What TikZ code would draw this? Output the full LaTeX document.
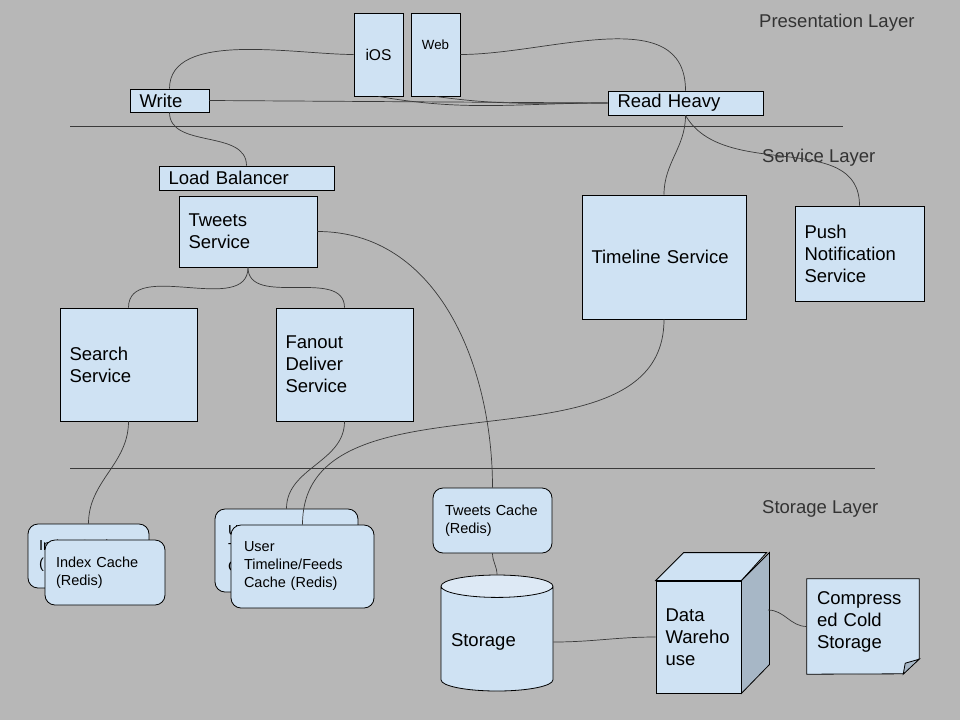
\documentclass[tikz,border=0pt]{standalone}
\usepackage{fontspec}
\setmainfont{Liberation Sans}
\usetikzlibrary{shapes.geometric}
\definecolor{bgcol}{HTML}{B7B7B7}
\definecolor{boxfill}{HTML}{CFE2F3}
\definecolor{capfill}{HTML}{DDE9F5}
\definecolor{sidefill}{HTML}{A7B7C6}
\definecolor{wirecol}{HTML}{3A3A3A}
\definecolor{layercol}{HTML}{333333}
\begin{document}
\begin{tikzpicture}[
    x=1pt, y=-1pt,
    every node/.style={font=\fontsize{18.5}{22}\selectfont},
    box/.style={draw=black, fill=boxfill, line width=0.8pt, inner xsep=9.5pt, inner ysep=0pt, align=left},
    card/.style={box, rounded corners=10pt, font=\fontsize{14.5}{18}\selectfont},
    wire/.style={draw=wirecol, line width=0.7pt},
    sep/.style={draw=wirecol, line width=0.9pt},
    layer/.style={text=layercol, anchor=west, inner sep=0pt}
]
\fill[bgcol] (0,0) rectangle (960,720);
\useasboundingbox (0,0) rectangle (960,720);

\draw[sep] (70,126) -- (843,126);
\draw[sep] (70,468) -- (875,468);

\node[layer] (presl) at (759,23) {Presentation Layer};
\node[layer] (servl) at (762,158) {Service Layer};
\node[layer] (storl) at (762,509) {Storage Layer};

\node[box, align=center, minimum width=49, minimum height=83, font=\fontsize{15.6}{18}\selectfont] (ios) at (378.5,54.5) {iOS};
\node[box, align=center, minimum width=49, minimum height=83, text height=10pt, text depth=21pt, font=\fontsize{13.3}{16}\selectfont] (web) at (435.5,54.5) {Web};
\node[box, minimum width=79, minimum height=23, text width=60] (write) at (169.5,100.5) {Write};
\node[box, minimum width=155, minimum height=24, text width=136] (read) at (685.5,103) {Read Heavy};

\node[box, minimum width=175, minimum height=24, text width=156] (lb) at (246.5,178) {Load Balancer};
\node[box, minimum width=138, minimum height=71, text width=119] (tweets) at (248,231.5) {Tweets\\Service};
\node[box, minimum width=137, minimum height=113, text width=118] (search) at (128.5,364.5) {Search\\Service};
\node[box, minimum width=137, minimum height=113, text width=118] (fanout) at (344.5,364.5) {Fanout\\Deliver\\Service};
\node[box, minimum width=164, minimum height=124, text width=145] (timeline) at (664,257) {Timeline Service};
\node[box, minimum width=129, minimum height=95, text width=110] (push) at (859.5,253.5) {Push\\Notification\\Service};

\node[card, inner xsep=11pt, minimum width=121, minimum height=64, text width=99] (idxback) at (88.5,556) {Index Cache\\(Redis)};
\node[card, inner xsep=11pt, minimum width=120, minimum height=65, text width=98] (idx) at (105,572.5) {Index Cache\\(Redis)};
\node[card, inner xsep=13pt, minimum width=143, minimum height=83, text width=117] (utlback) at (286.5,550.5) {User\\Timeline/Feeds\\Cache (Redis)};
\node[card, inner xsep=13pt, minimum width=143, minimum height=83, text width=117] (utl) at (302.5,566.5) {User\\Timeline/Feeds\\Cache (Redis)};
\node[card, inner xsep=12pt, minimum width=119, minimum height=65, text width=95] (tcache) at (492.5,520.5) {Tweets Cache\\(Redis)};

\node[cylinder, shape border rotate=90, shape aspect=0.2, draw=black, line width=0.8pt, cylinder uses custom fill, cylinder body fill=boxfill, cylinder end fill=capfill, inner xsep=10pt, inner ysep=0pt, minimum width=112, minimum height=116, text width=92, align=left] (storage) at (497,642) {Storage};

\node[box, minimum width=83, minimum height=112, text width=66] (dw) at (698.5,637) {Data\\Wareho\\use};
\draw[fill=boxfill, line width=0.8pt] (dw.north west) -- ++(28,-28) -- ++(83,0) -- (dw.north east) -- cycle;
\draw[fill=sidefill, line width=0.8pt] (dw.north east) -- ++(28,-28) -- ++(0,112) -- (dw.south east) -- cycle;
\coordinate (dwout) at (768,610);

\node[inner xsep=10pt, inner ysep=0pt, minimum width=112, minimum height=95, text width=92, align=left] (cold) at (863,626.5) {};
\draw[fill=boxfill, line width=0.8pt] (cold.north west) -- (cold.north east) -- ++(0,80) -- ++(-16,15) -- (cold.south west) -- cycle;
\draw[fill=sidefill, line width=0.8pt] ([yshift=15pt]cold.south east) -- ++(-14,4) -- ++(-2,11) -- cycle;
\node[inner xsep=10pt, inner ysep=0pt, text width=92, align=left] (coldtext) at (863,622) {Compress\\ed Cold\\Storage};

\draw[wire] (write.north) to[out=90, in=180, looseness=0.8] (ios.west);
\draw[wire] (web.east) to[out=0, in=90] (read.north);
\draw[wire] (write.east) -- (read.west);
\draw[wire] (ios.south) to[out=-10, in=180] (read.west);
\draw[wire] (web.south) to[out=-8, in=180] (read.west);
\draw[wire] (write.south) to[out=-90, in=90] (lb.north);
\draw[wire] (read.south) to[out=-90, in=90] (timeline.north);
\draw[wire] (read.south) to[out=-60, in=90] (push.north);
\draw[wire] (tweets.east) to[out=0, in=90] (tcache.north);
\draw[wire] (tweets.south) to[out=-90, in=90] (search.north);
\draw[wire] (tweets.south) to[out=-90, in=90] (fanout.north);
\draw[wire] (search.south) to[out=-90, in=90] (idxback.north);
\draw[wire] (fanout.south) to[out=-90, in=90] (utlback.north);
\draw[wire] (timeline.south) to[out=-90, in=90] (utl.north);
\draw[wire] (tcache.south) to[out=-90, in=90] (storage.north);
\draw[wire] (storage.east) to[out=0, in=180] (dw.west);
\draw[wire] (dwout) to[out=0, in=180] (cold.west);
\end{tikzpicture}
\end{document}
